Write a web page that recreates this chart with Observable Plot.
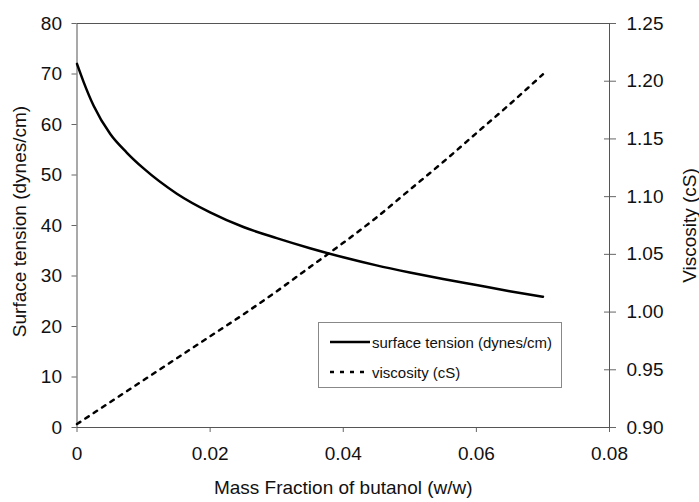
<!DOCTYPE html>
<html><head><meta charset="utf-8">
<script src="https://cdn.jsdelivr.net/npm/d3@7"></script>
<script src="https://cdn.jsdelivr.net/npm/@observablehq/plot@0.6"></script>
<style>
body{margin:0;background:#fff;}
#chart{position:relative;width:699px;height:502px;font-family:"Liberation Sans",Arial,sans-serif;color:#111;}
#legend{position:absolute;left:318px;top:322px;width:244px;height:66px;border:1px solid #888;background:#fff;font-size:15px;box-sizing:border-box;}
#legend .row{position:absolute;left:11px;height:20px;display:flex;align-items:center;white-space:nowrap;}
#legend svg{display:block;}
</style></head><body><div id="chart"></div><script>
// Data
const massFraction   = [0, 0.001, 0.0025, 0.005, 0.0075, 0.01, 0.015, 0.02, 0.025, 0.03, 0.035, 0.04, 0.045, 0.05, 0.055, 0.06, 0.065, 0.07];
const surfaceTension = [72, 68.4, 63.7, 58.1, 54.4, 51.3, 46.3, 42.6, 39.7, 37.5, 35.5, 33.7, 32.1, 30.7, 29.4, 28.2, 27.0, 25.9];
const viscosityX     = [0, 0.005, 0.01, 0.015, 0.02, 0.025, 0.03, 0.035, 0.04, 0.045, 0.05, 0.055, 0.06, 0.065, 0.07];
const viscosity      = [0.903, 0.922, 0.941, 0.960, 0.979, 0.998, 1.018, 1.039, 1.060, 1.082, 1.106, 1.130, 1.155, 1.180, 1.206];
const xTicks     = [0, 0.02, 0.04, 0.06, 0.08];
const leftTicks  = [0, 10, 20, 30, 40, 50, 60, 70, 80];
const rightTicks = [0.90, 0.95, 1.00, 1.05, 1.10, 1.15, 1.20, 1.25];
const seriesNames = ["surface tension (dynes/cm)", "viscosity (cS)"];
const xTitle = "Mass Fraction of butanol (w/w)";
const leftTitle = "Surface tension (dynes/cm)";
const rightTitle = "Viscosity (cS)";

const leftDomain = [0, 80];
const rightDomain = [0.90, 1.25];
const toLeft = v => (v - rightDomain[0]) / (rightDomain[1] - rightDomain[0]) * (leftDomain[1] - leftDomain[0]) + leftDomain[0];
const toRight = y => rightDomain[0] + (y - leftDomain[0]) / (leftDomain[1] - leftDomain[0]) * (rightDomain[1] - rightDomain[0]);

const stData = massFraction.map((x, i) => ({x, y: surfaceTension[i]}));
const vData = viscosityX.map((x, i) => ({x, v: viscosity[i]}));

const font = '"Liberation Sans", Arial, sans-serif';
const plot = Plot.plot({
  width: 699, height: 502,
  marginLeft: 76.5, marginRight: 90, marginTop: 23, marginBottom: 75,
  style: {fontFamily: font, fontSize: "19px", color: "#111", background: "white", overflow: "visible"},
  x: {domain: [0, 0.08]},
  y: {domain: leftDomain},
  marks: [
    Plot.axisX(xTicks, {tickSize: 5, tickPadding: 14, tickFormat: d => String(d), label: null, stroke: "#666"}),
    Plot.axisY(leftTicks, {anchor: "left", tickSize: 5, tickPadding: 10, label: null, stroke: "#666"}),
    Plot.axisY(rightTicks.map(toLeft), {anchor: "right", tickSize: 12, dx: -6, tickPadding: 11, label: null, stroke: "#666",
      tickFormat: d => toRight(d).toFixed(2)}),
    Plot.frame({stroke: "#555", strokeWidth: 1}),
    Plot.line(stData, {x: "x", y: "y", stroke: "black", strokeWidth: 2.5, curve: "monotone-x"}),
    Plot.line(vData, {x: "x", y: d => toLeft(d.v), stroke: "black", strokeWidth: 2.5, strokeDasharray: "4,6", curve: "monotone-x"}),
    Plot.text([xTitle], {frameAnchor: "bottom", dy: 66, fontSize: 19, fill: "#111"}),
    Plot.text([leftTitle], {frameAnchor: "left", textAnchor: "middle", dx: -57.5, dy: -4, rotate: -90, fontSize: 19, fill: "#111"}),
    Plot.text([rightTitle], {frameAnchor: "right", textAnchor: "middle", dx: 80, rotate: -90, fontSize: 19, fill: "#111"})
  ]
});
const chart = document.getElementById("chart");
chart.appendChild(plot);

// Legend overlay inside the plot area
const legend = document.createElement("div");
legend.id = "legend";
const dashes = ["none", "4,6"];
seriesNames.forEach((name, i) => {
  const row = document.createElement("div");
  row.className = "row";
  row.style.top = (i === 0 ? 9 : 39) + "px";
  const svgNS = "http://www.w3.org/2000/svg";
  const s = document.createElementNS(svgNS, "svg");
  s.setAttribute("width", 41); s.setAttribute("height", 20);
  const l = document.createElementNS(svgNS, "line");
  l.setAttribute("x1", 0); l.setAttribute("x2", 40); l.setAttribute("y1", 10); l.setAttribute("y2", 10);
  l.setAttribute("stroke", "black"); l.setAttribute("stroke-width", 2.5);
  if (dashes[i] !== "none") l.setAttribute("stroke-dasharray", dashes[i]);
  s.appendChild(l);
  row.appendChild(s);
  const t = document.createElement("span");
  t.textContent = name;
  t.style.marginLeft = "1px";
  row.appendChild(t);
  legend.appendChild(row);
});
chart.appendChild(legend);
</script></body></html>
